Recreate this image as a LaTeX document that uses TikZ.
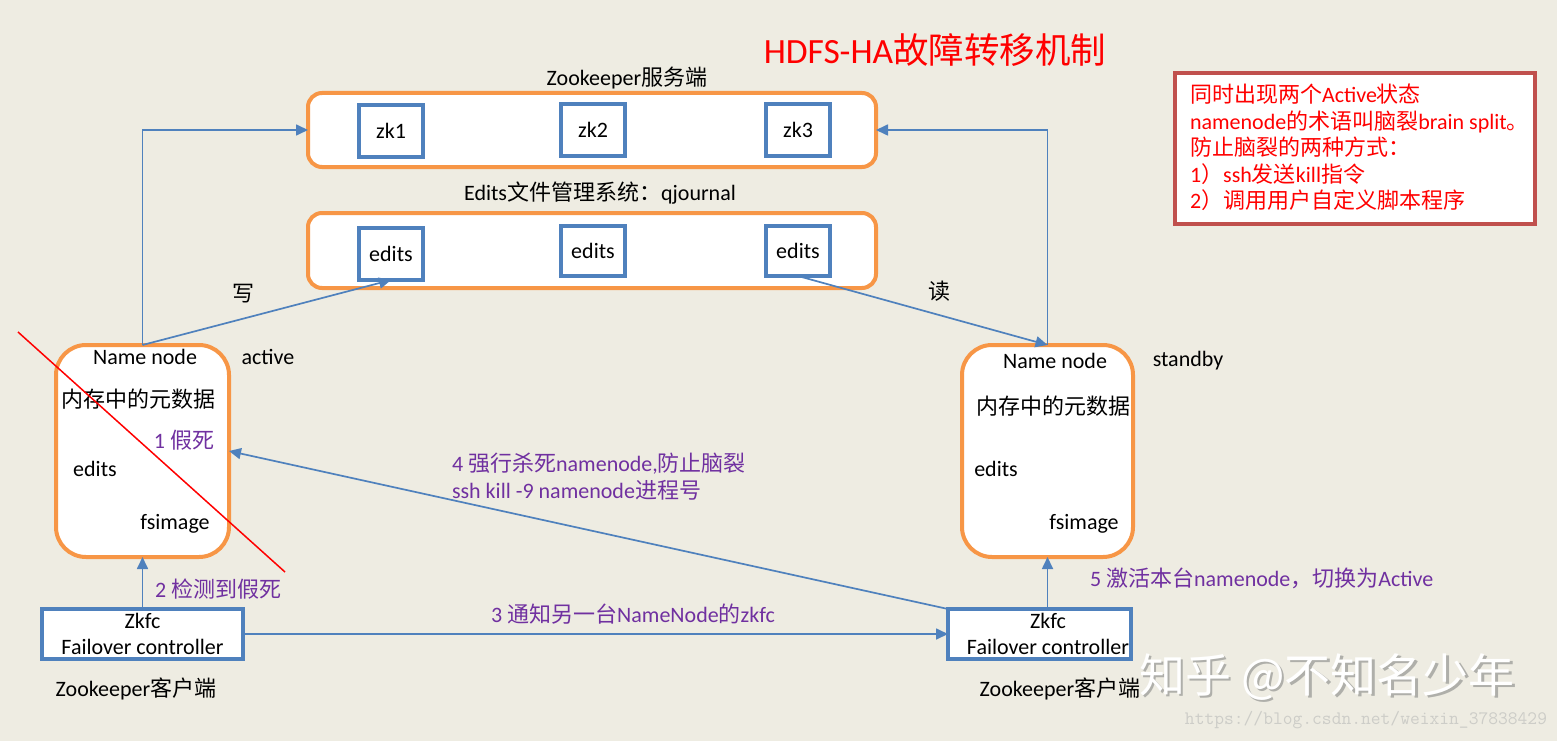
\documentclass[tikz,border=0pt]{standalone}
\usepackage{fontspec}
\setmainfont{Carlito}
\newfontfamily\cjk{Noto Sans CJK SC}
\usetikzlibrary{arrows.meta}
\definecolor{bg}{RGB}{238,236,226}
\definecolor{org}{RGB}{247,150,70}
\definecolor{blu}{RGB}{79,129,189}
\definecolor{pur}{RGB}{112,48,160}
\definecolor{rbox}{RGB}{192,80,77}
\definecolor{wm}{RGB}{175,175,170}
\definecolor{url}{RGB}{205,205,200}
\begin{document}
\begin{tikzpicture}[x=1pt,y=-1pt,
  every node/.style={inner sep=0pt, outer sep=0pt, font=\fontsize{22}{26}\selectfont},
  grp/.style={draw=org, line width=4pt, fill=white, rounded corners=14pt},
  nn/.style={draw=org, line width=4pt, fill=white, rounded corners=30pt, minimum height=212pt},
  sbox/.style={draw=blu, line width=3.5pt, fill=white, minimum width=64pt},
  fbox/.style={draw=blu, line width=3.5pt, fill=white, minimum height=50pt, align=center, font=\fontsize{22}{26}\selectfont},
  arr/.style={draw=blu, line width=1.7pt, -{Triangle[length=12pt,width=11pt]}},
  lbl/.style={text=pur}]
\useasboundingbox (0,0) rectangle (1557,741);
\fill[bg] (0,0) rectangle (1557,741);

% title
\node[text=red, font=\fontsize{35.5}{40}\selectfont] (title) at (935,50) {HDFS-HA{\cjk 故障转移机制}};

% zookeeper server group
\node (zklabel) at (627,78) {Zookeeper{\cjk 服务端}};
\node[grp, minimum width=568pt, minimum height=74pt] (zk) at (592,130) {};
\node[sbox, minimum height=52pt] (zk1) at (391,131) {zk1};
\node[sbox, minimum height=52pt] (zk2) at (593,130) {zk2};
\node[sbox, minimum height=52pt] (zk3) at (798,130) {zk3};

% edits group
\node (edlabel) at (600,193) {Edits{\cjk 文件管理系统：}qjournal};
\node[grp, minimum width=568pt, minimum height=75pt] (ed) at (592,250.5) {};
\node[sbox, minimum height=52pt] (ed1) at (391,254) {edits};
\node[sbox, minimum height=50pt] (ed2) at (593,251) {edits};
\node[sbox, minimum height=50pt] (ed3) at (798,251) {edits};

% name nodes
\node[nn, minimum width=173pt] (nnL) at (142.5,451) {};
\node (nnLt) at (145,357) {Name node};
\node (actv) at (268,357) {active};
\node (nnLm) at (138,399) {\cjk 内存中的元数据};
\node[lbl, anchor=east] (dead) at (214,440) {1 {\cjk 假死}};
\node (nnLe) at (95,469) {edits};
\node (nnLf) at (175,524) {fsimage};

\node[nn, minimum width=171pt] (nnR) at (1047.5,451) {};
\node (nnRt) at (1055,361) {Name node};
\node (stby) at (1188,361) {standby};
\node (nnRm) at (1053,406) {\cjk 内存中的元数据};
\node (nnRe) at (996,469) {edits};
\node (nnRf) at (1084,524) {fsimage};

% zkfc
\node[fbox, minimum width=201pt] (zkfcL) at (142.5,634) {Zkfc\\Failover controller};
\node[fbox, minimum width=183pt] (zkfcR) at (1039.5,634) {};
\node[align=center, font=\fontsize{22}{26}\selectfont] (zkfcRt) at (1048,634) {Zkfc\\Failover controller};
\node (zkcL) at (136,689) {Zookeeper{\cjk 客户端}};
\node (zkcR) at (1060,689) {Zookeeper{\cjk 客户端}};

% note box
\node[draw=rbox, line width=3.5pt, fill=white, minimum width=360pt, minimum height=151pt] (note) at (1355,148.5) {};
\node[anchor=north west, align=left, text=red, font=\fontsize{22}{26.5}\selectfont] (notet) at (1190,84)
 {{\cjk 同时出现两个}Active{\cjk 状态}\\
  namenode{\cjk 的术语叫脑裂}brain split{\cjk 。}\\
  {\cjk 防止脑裂的两种方式：}\\
  1{\cjk ）}ssh{\cjk 发送}kill{\cjk 指令}\\
  2{\cjk ）调用用户自定义脚本程序}};

% connectors
\draw[arr] (nnL.north) |- (zk.west);
\draw[arr] (nnR.north) |- (zk.east);
\draw[arr] (nnL.north) -- (ed1.south);
\draw[arr] (ed3.south) -- (nnR.north);
\node (wlbl) at (243,294) {\cjk 写};
\node (rlbl) at (939,291) {\cjk 读};

\draw[arr] (zkfcR.north west) -- (nnL.east);
\node[lbl, anchor=west, align=left, font=\fontsize{22}{27}\selectfont] (kill) at (452,477)
 {4 {\cjk 强行杀死}namenode,{\cjk 防止脑裂}\\ssh kill -9 namenode{\cjk 进程号}};

\draw[arr] (zkfcL.north) -- (nnL.south);
\node[lbl, anchor=west] (det) at (155,589) {2 {\cjk 检测到假死}};

\draw[arr] (zkfcL.east) -- (zkfcR.west);
\node[lbl] (notify) at (633,614) {3 {\cjk 通知另一台}NameNode{\cjk 的}zkfc};

\draw[arr] (nnR.south |- zkfcR.north) -- (nnR.south);
\node[lbl, anchor=west] (act) at (1090,578) {5 {\cjk 激活本台}namenode{\cjk ，切换为}Active};

% crossed-out line
\coordinate (xa) at (18,332);
\coordinate (xb) at (285,572);
\draw[red, line width=1.5pt] (xa) -- (xb);

% watermarks
\node[text=wm, font=\fontsize{46}{50}\cjk] (wms) at (1329.5,679.5) {知乎 @不知名少年};
\node[text=white, font=\fontsize{46}{50}\cjk] (wm) at (1327,677) {知乎 @不知名少年};
\node[text=url, anchor=east, font=\fontsize{19}{22}\ttfamily] (urlt) at (1547,720) {https://blog.csdn.net/weixin\_37838429};
\end{tikzpicture}
\end{document}
